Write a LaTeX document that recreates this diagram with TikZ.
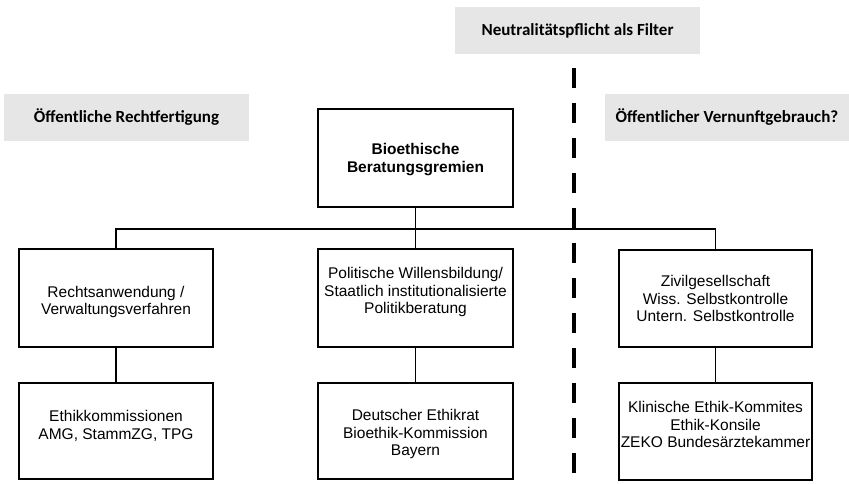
\documentclass[tikz,border=0pt]{standalone}
\usepackage{fontspec}
\setmainfont{Liberation Sans}
\newfontfamily\headfont{Carlito}
\definecolor{headgray}{HTML}{E6E6E6}
\begin{document}
\begin{tikzpicture}[x=1pt,y=-1pt,
  heading/.style={fill=headgray, draw=none, inner sep=0pt, outer sep=0pt,
    font=\headfont\bfseries\fontsize{17}{20}\selectfont},
  box/.style={draw=black, line width=1.7pt, fill=white, inner sep=0pt, outer sep=0pt,
    minimum width=194pt},
  boxtext/.style={align=center, inner sep=0pt, font=\fontsize{15.5}{17.5}\selectfont},
  conn/.style={draw=black, line width=1.6pt},
  divider/.style={draw=black, line width=4.5pt, dash pattern=on 20pt off 15pt}
]
\useasboundingbox (0,0) rectangle (849,483);

% headings
\node[heading, minimum width=245pt, minimum height=47pt] (hneutral) at (577.5,30.5) {Neutralitätspflicht als Filter};
\node[heading, minimum width=245pt, minimum height=47pt] (hleft) at (126.5,117.5) {Öffentliche Rechtfertigung};
\node[heading, minimum width=244pt, minimum height=47pt] (hright) at (727,117.5) {Öffentlicher Vernunftgebrauch?};

% dashed divider
\coordinate (dtop) at (574,68);
\coordinate (dbot) at (574,483);
\draw[divider] (dtop) -- (dbot);

% boxes
\node[box, minimum width=195pt, minimum height=98pt,
  label={[boxtext, font=\bfseries\fontsize{15.5}{17.5}\selectfont, yshift=-1.5pt]center:{Bioethische\\Beratungsgremien}}] (top) at (415.5,158) {};

\node[box, minimum height=98pt,
  label={[boxtext, yshift=-4pt]center:{Rechtsanwendung /\\Verwaltungsverfahren}}] (l1) at (116,298) {};
\node[box, minimum height=96pt,
  label={[boxtext, yshift=5pt]center:{Ethikkommissionen\\AMG, StammZG, TPG}}] (l2) at (116,431) {};

\node[box, minimum width=195pt, minimum height=98pt,
  label={[boxtext, yshift=6pt]center:{Politische Willensbildung/\\Staatlich institutionalisierte\\Politikberatung}}] (m1) at (415.5,298) {};
\node[box, minimum width=195pt, minimum height=96pt,
  label={[boxtext, yshift=-3pt]center:{Deutscher Ethikrat\\Bioethik-Kommission\\Bayern}}] (m2) at (415.5,431) {};

\node[box, minimum width=193pt, minimum height=97pt,
  label={[boxtext]center:{Zivilgesellschaft\\Wiss. Selbstkontrolle\\Untern. Selbstkontrolle}}] (r1) at (715.5,298.5) {};
\node[box, minimum width=193pt, minimum height=97pt,
  label={[boxtext, yshift=7pt]center:{Klinische Ethik-Kommites\\Ethik-Konsile\\ZEKO Bundesärztekammer}}] (r2) at (715.5,431.5) {};

% connectors
\coordinate (bus) at (0,229);
\draw[conn] (top.south) -- (m1.north);
\draw[conn] (l1.north) -- (l1.north |- bus) -- (r1.north |- bus) -- (r1.north);
\draw[conn] (l1.south) -- (l2.north);
\draw[conn] (m1.south) -- (m2.north);
\draw[conn] (r1.south) -- (r2.north);
\end{tikzpicture}
\end{document}
